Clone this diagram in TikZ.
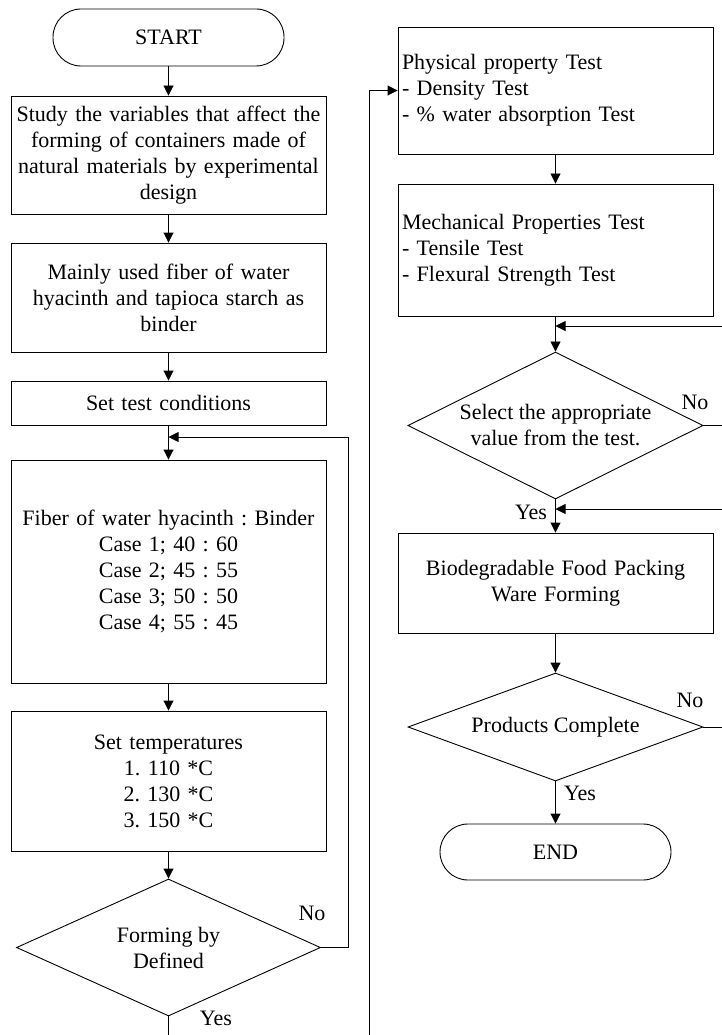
\documentclass[tikz,border=0pt]{standalone}
\usepackage{fontspec}
\setmainfont{Liberation Serif}
\usetikzlibrary{arrows.meta,shapes.geometric}
\frenchspacing

\begin{document}
\begin{tikzpicture}[
  x=1pt, y=-1pt,
  font=\fontsize{22}{26}\selectfont,
  line width=0.9pt,
  box/.style={draw, align=center, text width=307pt, inner sep=4pt},
  listbox/.style={draw, align=left, text width=307pt, inner sep=4pt},
  term/.style={draw, rounded corners=28pt, minimum width=231pt, minimum height=57pt},
  decision/.style={draw, diamond, aspect=2, inner sep=0pt, align=center, minimum width=295pt},
  label/.style={inner sep=0pt},
  arrow/.style={-{Triangle[length=10pt, width=10pt]}},
  line/.style={-}
]
\useasboundingbox (0,0) rectangle (722,1035);

\node[term] (start) at (168.5,37.5) {START};
\node[box, minimum height=118pt] (study) at (168.5,155)
  {Study the variables that affect the\\forming of containers made of\\natural materials by experimental\\design};
\node[box, minimum height=109pt] (fiber) at (168.5,297.5)
  {Mainly used fiber of water\\hyacinth and tapioca starch as\\binder};
\node[box, minimum height=44pt] (setcond) at (168.5,403) {Set test conditions};
\node[box, minimum height=223pt] (cases) at (168.5,571.5)
  {Fiber of water hyacinth : Binder\\Case 1; 40 : 60\\Case 2; 45 : 55\\Case 3; 50 : 50\\Case 4; 55 : 45};
\node[box, minimum height=140pt] (temps) at (168.5,781)
  {Set temperatures\\1. 110 *C\\2. 130 *C\\3. 150 *C};
\node[decision, minimum width=304pt, minimum height=137pt] (formdec) at (168.5,947.5)
  {Forming by\\Defined};

\node[listbox, minimum height=127pt] (phys) at (555.5,90.5)
  {Physical property Test\\- Density Test\\- \% water absorption Test};
\node[listbox, minimum height=132pt] (mech) at (555.5,250)
  {Mechanical Properties Test\\- Tensile Test\\- Flexural Strength Test};
\node[decision, minimum height=147pt] (selectdec) at (555.5,425.5)
  {Select the appropriate\\value from the test.};
\node[box, minimum height=100pt] (packing) at (555.5,583)
  {Biodegradable Food Packing\\Ware Forming};
\node[decision, minimum height=108pt] (proddec) at (555.5,727)
  {Products Complete};
\node[term, minimum height=56pt] (finish) at (555.5,852) {END};

\coordinate (loopleft) at (348,437);
\coordinate (yesout) at (168.5,1035);
\coordinate (linkin) at (369,1035);
\coordinate (backmech) at (722,326);
\coordinate (nosel) at (722,425.5);
\coordinate (backsel) at (722,509);
\coordinate (noprod) at (722,727);

\node[label] (noform) at (312,913) {No};
\node[label] (yesform) at (216,1018) {Yes};
\node[label] (nosel-l) at (695,402) {No};
\node[label] (yessel) at (531,512) {Yes};
\node[label] (noprod-l) at (690,700) {No};
\node[label] (yesprod) at (580,793) {Yes};

\draw[arrow] (start) -- (study);
\draw[arrow] (study) -- (fiber);
\draw[arrow] (fiber) -- (setcond);
\draw[arrow] (setcond) -- (cases);
\draw[arrow] (cases) -- (temps);
\draw[arrow] (temps) -- (formdec);
\draw[line] (formdec.east) -| (loopleft);
\draw[arrow] (loopleft) -- (loopleft -| cases.north);
\draw[line] (formdec.south) -- (yesout);
\draw[arrow] (linkin) |- (phys.west);

\draw[arrow] (phys) -- (mech);
\draw[arrow] (mech) -- (selectdec);
\draw[arrow] (backmech) -- (backmech -| mech.south);
\draw[line] (selectdec.east) -- (nosel);
\draw[arrow] (selectdec) -- (packing);
\draw[arrow] (backsel) -- (backsel -| packing.north);
\draw[arrow] (packing) -- (proddec);
\draw[line] (proddec.east) -- (noprod);
\draw[arrow] (proddec) -- (finish);

\end{tikzpicture}
\end{document}
